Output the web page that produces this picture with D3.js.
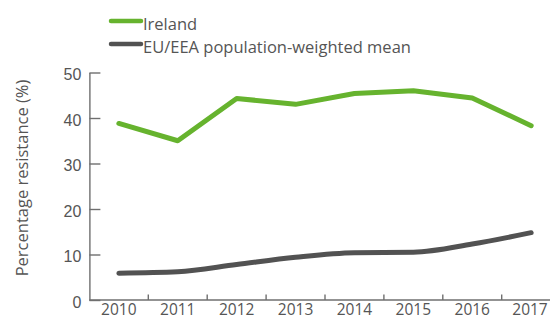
<!DOCTYPE html>
<html>
<head>
<meta charset="utf-8">
<script src="https://cdn.jsdelivr.net/npm/d3@7/dist/d3.min.js"></script>
<style>
  html, body { margin: 0; padding: 0; background: #fff; }
  svg { display: block; font-family: "Open Sans", "Noto Sans", sans-serif; }
</style>
</head>
<body>
<svg id="chart" width="550" height="320"></svg>
<script>
// Resistance trend, Ireland vs EU/EEA mean
const years = ["2010", "2011", "2012", "2013", "2014", "2015", "2016", "2017"];
const ireland = [38.8, 35.0, 44.3, 43.0, 45.4, 46.0, 44.4, 38.3];
const euMean = [5.9, 6.2, 7.8, 9.4, 10.4, 10.5, 12.3, 14.8];
const yTicks = [0, 10, 20, 30, 40, 50];
const seriesNames = ["Ireland", "EU/EEA population-weighted mean"];
const seriesColors = ["#66b32e", "#525252"];

const svg = d3.select("#chart");
const axisColor = "#6f6f6f";
const textColor = "#555";

const x = d3.scaleBand().domain(years).range([89.4, 560.6]).paddingInner(0).paddingOuter(0);
const y = d3.scaleLinear().domain([0, 50]).range([300, 72.5]);

// y axis with inward ticks
const yAxis = svg.append("g")
  .attr("transform", `translate(${x.range()[0]},0)`)
  .call(d3.axisLeft(y).tickValues(yTicks).tickSize(-11).tickSizeOuter(0));
yAxis.select(".domain").attr("stroke", axisColor).attr("stroke-width", 1.4);
yAxis.selectAll(".tick line").attr("stroke", axisColor).attr("stroke-width", 1.4);
yAxis.selectAll(".tick text")
  .attr("fill", textColor).attr("font-size", 16).attr("dy", "0.45em").attr("text-anchor", "end")
  .attr("x", -8);

// x axis: baseline plus short ticks on band boundaries
const xg = svg.append("g");
xg.append("line")
  .attr("x1", x.range()[0]).attr("x2", 550)
  .attr("y1", y(0)).attr("y2", y(0))
  .attr("stroke", axisColor).attr("stroke-width", 1.4);
xg.selectAll("line.tk").data(years.slice(1)).join("line")
  .attr("class", "tk")
  .attr("x1", d => x(d)).attr("x2", d => x(d))
  .attr("y1", y(0)).attr("y2", y(0) - 5.5)
  .attr("stroke", axisColor).attr("stroke-width", 1.4);
xg.selectAll("text").data(years).join("text")
  .attr("x", d => Math.min(x(d) + x.bandwidth() / 2, 530))
  .attr("y", 315)
  .attr("text-anchor", "middle")
  .attr("font-size", 15.5)
  .attr("fill", textColor)
  .text(d => d);

// y axis title
svg.append("text")
  .attr("transform", "translate(28,178) rotate(-90)")
  .attr("text-anchor", "middle")
  .attr("font-size", 16.5)
  .attr("fill", textColor)
  .text("Percentage resistance (%)");

const cx = d => x(d) + x.bandwidth() / 2;

// EU/EEA mean (smoothed)
svg.append("path")
  .datum(euMean)
  .attr("fill", "none")
  .attr("stroke", seriesColors[1])
  .attr("stroke-width", 5)
  .attr("stroke-linecap", "round")
  .attr("d", d3.line().x((d, i) => cx(years[i])).y(d => y(d)).curve(d3.curveMonotoneX));

// Ireland
svg.append("path")
  .datum(ireland)
  .attr("fill", "none")
  .attr("stroke", seriesColors[0])
  .attr("stroke-width", 5)
  .attr("stroke-linecap", "round")
  .attr("stroke-linejoin", "round")
  .attr("d", d3.line().x((d, i) => cx(years[i])).y(d => y(d)));

// legend
const legend = svg.append("g");
const legendY = [21, 44];
seriesNames.forEach((name, i) => {
  legend.append("line")
    .attr("x1", 111).attr("x2", 141)
    .attr("y1", legendY[i]).attr("y2", legendY[i])
    .attr("stroke", seriesColors[i])
    .attr("stroke-width", 4.5)
    .attr("stroke-linecap", "round");
  legend.append("text")
    .attr("x", 143)
    .attr("y", legendY[i] + 8.5)
    .attr("font-size", 16.5)
    .attr("fill", textColor)
    .text(name);
});
</script>
</body>
</html>
